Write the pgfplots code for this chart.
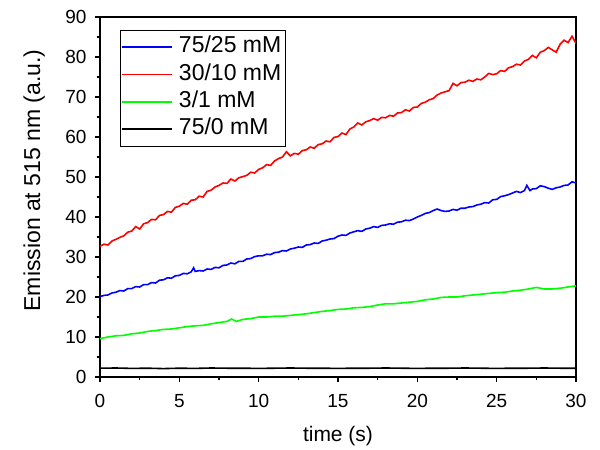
\documentclass[border=0pt]{standalone}
\usepackage{fontspec}
\setmainfont{Liberation Sans}
\usepackage{pgfplots}
\pgfplotsset{compat=1.18}
\pgfplotsset{
  limg/.style={legend image code/.code={\node[inner sep=0pt, outer sep=0pt, anchor=base west, text height=0.9pt, text depth=0.9pt] at (0pt,0pt) {\textcolor{#1}{\rule[-0.9pt]{50pt}{1.8pt}}}; \path (54pt,0pt);}},
}
\begin{document}
\begin{tikzpicture}
\begin{axis}[
  at={(0pt,0pt)}, anchor=south west,
  scale only axis, width=476pt, height=360pt,
  xmin=0, xmax=30, ymin=0, ymax=90,
  xtick={0,5,...,30}, ytick={0,10,...,90},
  minor x tick num=1, minor y tick num=1,
  xtick pos=left, ytick pos=left,
  tick align=outside,
  major tick length=5pt, minor tick length=3pt,
  axis line style={line width=1.3pt},
  every tick/.style={line width=1.1pt, black},
  /pgf/number format/assume math mode=true,
  tick label style={font=\fontsize{19}{22}\selectfont},
  xticklabel style={anchor=base, yshift=-25pt},
  yticklabel style={anchor=east, xshift=-5pt},
  xlabel={time (s)},
  ylabel={Emission at 515 nm (a.u.)},
  xlabel style={font=\fontsize{21}{24}\selectfont, at={(axis description cs:0.5,0)}, anchor=base, yshift=-64.7pt},
  ylabel style={font=\fontsize{23}{26}\selectfont, at={(axis description cs:-0.126,0.546)}, anchor=base},
  legend cell align=left,
  legend style={at={(rel axis cs:0.042,0.964)}, anchor=north west,
    font=\fontsize{23}{26}\selectfont,
    inner xsep=2pt, inner ysep=6pt, row sep=5.4pt,
    nodes={inner xsep=2pt, inner ysep=0pt, text height=16.5pt, text depth=5.5pt}},
  every axis plot/.append style={line width=1.6pt},
]
\addplot[blue, limg=blue] coordinates {
(0,20.1)(0.25,20.4)(0.5,20.5)(0.75,21.0)(1.0,21.2)(1.25,21.6)(1.5,21.5)(1.75,22.1)(2.0,22.1)(2.25,22.6)(2.5,22.5)(2.75,23.1)(3.0,23.1)(3.25,23.6)(3.5,23.5)(3.75,24.2)(4.0,24.3)(4.25,24.8)(4.5,24.7)(4.75,25.3)(5.0,25.4)(5.25,25.9)(5.5,25.8)(5.75,26.3)(5.9,27.3)(6.0,26.4)(6.25,26.6)(6.5,26.5)(6.75,27.0)(7.0,26.9)(7.25,27.4)(7.5,27.3)(7.75,27.9)(8.0,28.0)(8.25,28.5)(8.5,28.3)(8.75,28.9)(9.0,28.9)(9.25,29.5)(9.5,29.6)(9.75,30.1)(10.0,30.3)(10.25,30.3)(10.5,30.7)(10.75,30.6)(11.0,31.1)(11.25,31.2)(11.5,31.6)(11.75,31.5)(12.0,32.0)(12.25,32.2)(12.5,32.5)(12.75,32.4)(13.0,33.0)(13.25,33.1)(13.5,33.5)(13.75,33.4)(14.0,34.0)(14.25,34.2)(14.5,34.5)(14.75,34.6)(15.0,35.2)(15.25,35.5)(15.5,35.4)(15.75,36.0)(16.0,36.3)(16.25,36.6)(16.5,36.4)(16.75,37.0)(17.0,37.2)(17.25,37.6)(17.5,37.4)(17.75,37.9)(18.0,38.0)(18.25,38.3)(18.5,38.2)(18.75,38.7)(19.0,38.8)(19.25,39.2)(19.5,39.1)(19.75,39.5)(20.0,40.0)(20.25,40.4)(20.5,40.9)(20.75,41.1)(21.0,41.6)(21.25,42.0)(21.5,41.6)(21.75,41.4)(22.0,41.5)(22.25,41.9)(22.5,41.7)(22.75,42.2)(23.0,42.2)(23.25,42.5)(23.5,42.6)(23.75,43.0)(24.0,43.2)(24.25,43.6)(24.5,43.5)(24.75,44.3)(25.0,44.4)(25.25,45.1)(25.5,45.3)(25.75,45.6)(26.0,46.0)(26.25,46.4)(26.5,46.1)(26.75,46.6)(26.9,47.9)(27.1,46.6)(27.25,47.0)(27.5,47.1)(27.75,47.8)(28.0,47.6)(28.25,47.2)(28.5,46.9)(28.75,47.3)(29.0,47.5)(29.25,47.9)(29.5,48.0)(29.75,48.8)(30.0,48.5)
};
\addlegendentry{75/25 mM}
\addplot[red, limg=red] coordinates {
(0,32.7)(0.25,33.2)(0.5,33.0)(0.75,34.0)(1.0,34.4)(1.25,34.9)(1.5,35.3)(1.75,36.2)(2.0,36.5)(2.25,37.6)(2.5,37.0)(2.75,38.3)(3.0,38.6)(3.25,39.4)(3.5,39.3)(3.75,40.4)(4.0,40.6)(4.25,41.4)(4.5,41.2)(4.75,42.4)(5.0,42.7)(5.25,43.4)(5.5,43.2)(5.75,44.2)(6.0,44.3)(6.25,45.2)(6.5,45.0)(6.75,46.4)(7.0,46.7)(7.25,47.5)(7.5,47.9)(7.75,48.5)(8.0,48.4)(8.25,49.5)(8.5,49.0)(8.75,49.8)(9.0,50.1)(9.25,50.4)(9.5,51.2)(9.75,51.0)(10.0,51.9)(10.25,52.3)(10.5,53.1)(10.75,52.9)(11.0,54.0)(11.25,54.6)(11.5,55.0)(11.75,56.3)(12.0,55.3)(12.25,55.9)(12.5,55.7)(12.75,56.6)(13.0,56.8)(13.25,57.5)(13.5,57.2)(13.75,58.1)(14.0,58.3)(14.25,59.0)(14.5,58.8)(14.75,59.9)(15.0,60.1)(15.25,61.0)(15.5,60.6)(15.75,62.0)(16.0,62.5)(16.25,63.5)(16.5,63.0)(16.75,63.8)(17.0,64.1)(17.25,64.6)(17.5,64.2)(17.75,64.9)(18.0,64.8)(18.25,65.4)(18.5,65.2)(18.75,66.0)(19.0,66.1)(19.25,66.8)(19.5,66.5)(19.75,67.4)(20.0,67.5)(20.25,68.4)(20.5,68.7)(20.75,69.3)(21.0,69.6)(21.25,70.5)(21.5,71.0)(21.75,71.3)(22.0,71.6)(22.25,73.4)(22.5,72.8)(22.75,73.6)(23.0,73.7)(23.25,74.2)(23.5,73.9)(23.75,74.5)(24.0,74.3)(24.25,75.0)(24.5,75.9)(24.75,75.6)(25.0,75.8)(25.25,76.6)(25.5,76.4)(25.75,77.3)(26.0,77.6)(26.25,78.2)(26.5,78.0)(26.75,79.0)(27.0,79.4)(27.25,80.4)(27.5,79.8)(27.75,81.2)(28.0,81.6)(28.25,82.4)(28.5,81.8)(28.75,81.2)(29.0,83.2)(29.25,84.2)(29.5,83.6)(29.75,85.2)(30.0,83.4)
};
\addlegendentry{30/10 mM}
\addplot[green, limg=green] coordinates {
(0,9.6)(0.5,10.0)(1,10.3)(1.5,10.4)(2,10.8)(2.5,11.0)(3,11.4)(3.5,11.6)(4,11.9)(4.5,12.0)(5,12.3)(5.5,12.6)(6,12.8)(6.5,12.9)(7,13.3)(7.5,13.6)(8,13.9)(8.3,14.5)(8.6,13.9)(9,14.4)(9.5,14.6)(10,15.0)(10.5,15.0)(11,15.2)(11.5,15.2)(12,15.4)(12.5,15.6)(13,15.8)(13.5,16.1)(14,16.4)(14.5,16.6)(15,16.9)(15.5,17.0)(16,17.3)(16.5,17.4)(17,17.6)(17.5,18.0)(18,18.3)(18.5,18.3)(19,18.5)(19.5,18.7)(20,18.9)(20.5,19.3)(21,19.5)(21.5,19.9)(22,20.0)(22.5,20.0)(23,20.3)(23.5,20.5)(24,20.7)(24.5,20.9)(25,21.1)(25.5,21.2)(26,21.5)(26.5,21.7)(27,22.0)(27.5,22.4)(28,22.0)(28.5,22.0)(29,22.2)(29.5,22.5)(30,22.8)
};
\addlegendentry{3/1 mM}
\addplot[black, limg=black] coordinates {
(0,2.2)(1,2.25)(2,2.15)(3,2.2)(4,2.1)(5,2.2)(6,2.15)(7,2.25)(8,2.2)(9,2.2)(10,2.15)(11,2.2)(12,2.25)(13,2.2)(14,2.2)(15,2.15)(16,2.2)(17,2.2)(18,2.25)(19,2.2)(20,2.15)(21,2.2)(22,2.2)(23,2.25)(24,2.2)(25,2.15)(26,2.2)(27,2.2)(28,2.25)(29,2.2)(30,2.2)
};
\addlegendentry{75/0 mM}
\end{axis}
\pgfresetboundingbox
\path[use as bounding box] (-100pt,-73pt) rectangle (500pt,377pt);
\end{tikzpicture}
\end{document}
